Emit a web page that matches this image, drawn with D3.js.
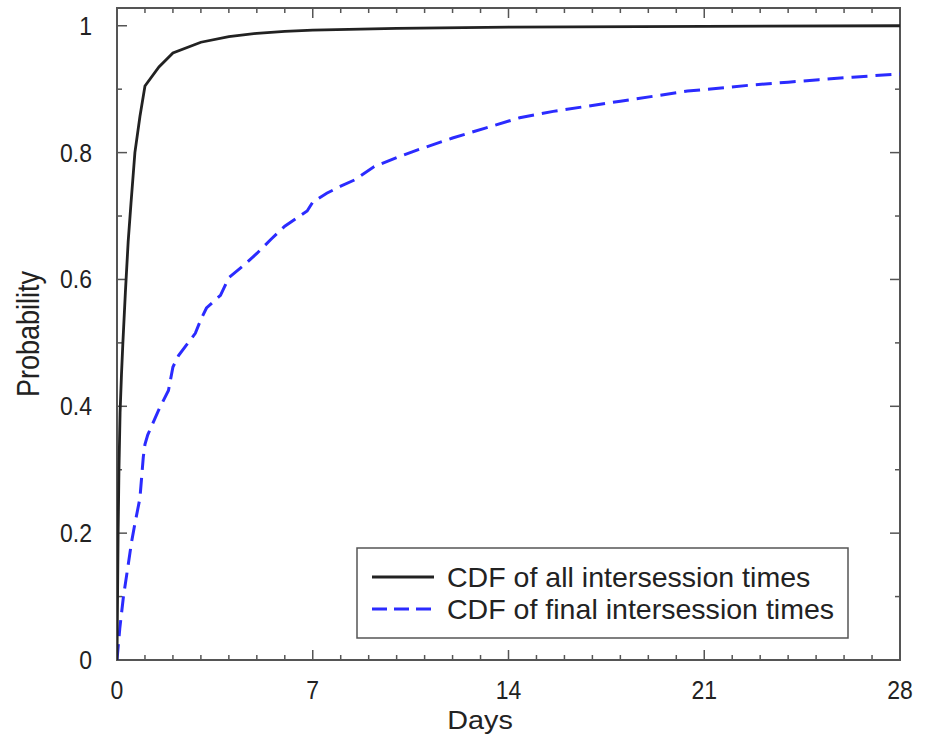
<!DOCTYPE html>
<html>
<head>
<meta charset="utf-8">
<script src="https://cdn.jsdelivr.net/npm/d3@7"></script>
<style>
  html, body { margin: 0; padding: 0; background: #fff; }
  svg text { font-family: "Liberation Sans", Arial, Helvetica, sans-serif; fill: #222; }
</style>
</head>
<body>
<svg id="chart" width="930" height="737"></svg>
<script>
// CDF of all intersession times: [days, probability]
const allTimes = [
  [0, 0], [0.02, 0.1], [0.04, 0.2], [0.07, 0.3], [0.11, 0.39], [0.16, 0.45],
  [0.21, 0.5], [0.3, 0.58], [0.4, 0.66], [0.5, 0.72], [0.64, 0.8],
  [0.82, 0.857], [1.0, 0.905], [1.5, 0.935], [2.0, 0.957], [3.0, 0.974],
  [4.0, 0.983], [5.0, 0.988], [6.0, 0.991], [7.0, 0.993], [10, 0.996],
  [14, 0.998], [21, 0.999], [28, 1.0]
];

// CDF of final intersession times: [days, probability]
const finalTimes = [
  [0, 0], [0.1, 0.05], [0.23, 0.1], [0.4, 0.15], [0.52, 0.186], [0.64, 0.215],
  [0.82, 0.255], [0.94, 0.32], [1.0, 0.34], [1.1, 0.355], [1.2, 0.365],
  [1.5, 0.395], [1.84, 0.425], [2.0, 0.462], [2.2, 0.48], [2.8, 0.515],
  [3.0, 0.537], [3.2, 0.555], [3.7, 0.575], [4.0, 0.603], [4.5, 0.621],
  [5.0, 0.641], [5.5, 0.663], [6.0, 0.684], [6.8, 0.708], [7.0, 0.722],
  [7.5, 0.736], [8.0, 0.747], [8.5, 0.757], [9.2, 0.778], [10, 0.792],
  [10.8, 0.805], [12, 0.823], [13.2, 0.839], [14.4, 0.855], [15.6, 0.865],
  [16.8, 0.873], [18, 0.881], [19.2, 0.889], [20.4, 0.897], [21.6, 0.902],
  [22.8, 0.907], [24, 0.911], [25.1, 0.915], [26.3, 0.919], [28, 0.924]
];

const xMajorTicks = [0, 7, 14, 21, 28];
const yMajorTicks = [0, 0.2, 0.4, 0.6, 0.8, 1];
const seriesNames = ["CDF of all intersession times", "CDF of final intersession times"];

const W = 930, H = 737;
const margin = { top: 8, right: 30, bottom: 77, left: 117 };
const iw = W - margin.left - margin.right;
const ih = H - margin.top - margin.bottom;

const svg = d3.select("#chart");
const g = svg.append("g").attr("transform", `translate(${margin.left},${margin.top})`);

const x = d3.scaleLinear().domain([0, 28]).range([0, iw]);
const y = d3.scaleLinear().domain([0, 1.028]).range([ih, 0]);

const axisColor = "#555";
const xMinor = d3.range(0, 29, 1);
const yMinor = d3.range(0, 11).map(i => i / 10);

// text placed at (px, py), scaled by (sx, sy), optionally rotated
function label(parent, px, py, str, size, anchor, sx, sy, rotate) {
  return parent.append("text")
    .attr("transform", `translate(${px},${py})${rotate ? ` rotate(${rotate})` : ""} scale(${sx},${sy})`)
    .attr("text-anchor", anchor).attr("font-size", size).text(str);
}

// inward ticks on all four sides
function ticks(values, isMajor, horizontal) {
  values.forEach(v => {
    const len = isMajor(v) ? 10 : 5;
    if (horizontal) {
      const px = x(v);
      g.append("line").attr("x1", px).attr("x2", px).attr("y1", ih).attr("y2", ih - len)
        .attr("stroke", axisColor).attr("stroke-width", 1.5);
      g.append("line").attr("x1", px).attr("x2", px).attr("y1", 0).attr("y2", len)
        .attr("stroke", axisColor).attr("stroke-width", 1.5);
    } else {
      const py = y(v);
      g.append("line").attr("x1", 0).attr("x2", len).attr("y1", py).attr("y2", py)
        .attr("stroke", axisColor).attr("stroke-width", 1.5);
      g.append("line").attr("x1", iw).attr("x2", iw - len).attr("y1", py).attr("y2", py)
        .attr("stroke", axisColor).attr("stroke-width", 1.5);
    }
  });
}
ticks(xMinor, v => xMajorTicks.includes(v), true);
ticks(yMinor, v => yMajorTicks.some(t => Math.abs(t - v) < 1e-9), false);

// plot frame
g.append("rect").attr("x", 0).attr("y", 0).attr("width", iw).attr("height", ih)
  .attr("fill", "none").attr("stroke", axisColor).attr("stroke-width", 2);

// tick labels
const labelSize = 23;
xMajorTicks.forEach(d => label(g, x(d), ih + 39, d, labelSize, "middle", 1, 1.15));
yMajorTicks.forEach(d => label(g, -25, y(d) + 9, d, labelSize, "end", 1, 1.15));

// axis titles
label(svg, 480, 729, "Days", 24, "middle", 1.2, 1.05);
label(svg, 39, 334, "Probability", 27, "middle", 1, 1.15, -90);

// curves
const line = d3.line().x(d => x(d[0])).y(d => y(d[1]));
g.append("clipPath").attr("id", "plotclip").append("rect")
  .attr("width", iw).attr("height", ih);
g.append("path").datum(finalTimes).attr("d", line).attr("clip-path", "url(#plotclip)")
  .attr("fill", "none").attr("stroke", "#2b2bff").attr("stroke-width", 3)
  .attr("stroke-dasharray", "16,8");
g.append("path").datum(allTimes).attr("d", line).attr("clip-path", "url(#plotclip)")
  .attr("fill", "none").attr("stroke", "#222").attr("stroke-width", 2.8);

// legend
const lg = svg.append("g").attr("transform", "translate(357,548)");
lg.append("rect").attr("width", 491).attr("height", 90)
  .attr("fill", "#fff").attr("stroke", axisColor).attr("stroke-width", 1.5);
const styles = [
  { stroke: "#222", dash: null, width: 2.8 },
  { stroke: "#2b2bff", dash: "15,7", width: 3 }
];
seriesNames.forEach((name, i) => {
  const cy = 29 + i * 32;
  lg.append("line").attr("x1", 15).attr("x2", 77).attr("y1", cy).attr("y2", cy)
    .attr("stroke", styles[i].stroke).attr("stroke-width", styles[i].width)
    .attr("stroke-dasharray", styles[i].dash);
  label(lg, 90, cy + 10, name, 25.5, "start", 1.12, 1.05);
});
</script>
</body>
</html>
